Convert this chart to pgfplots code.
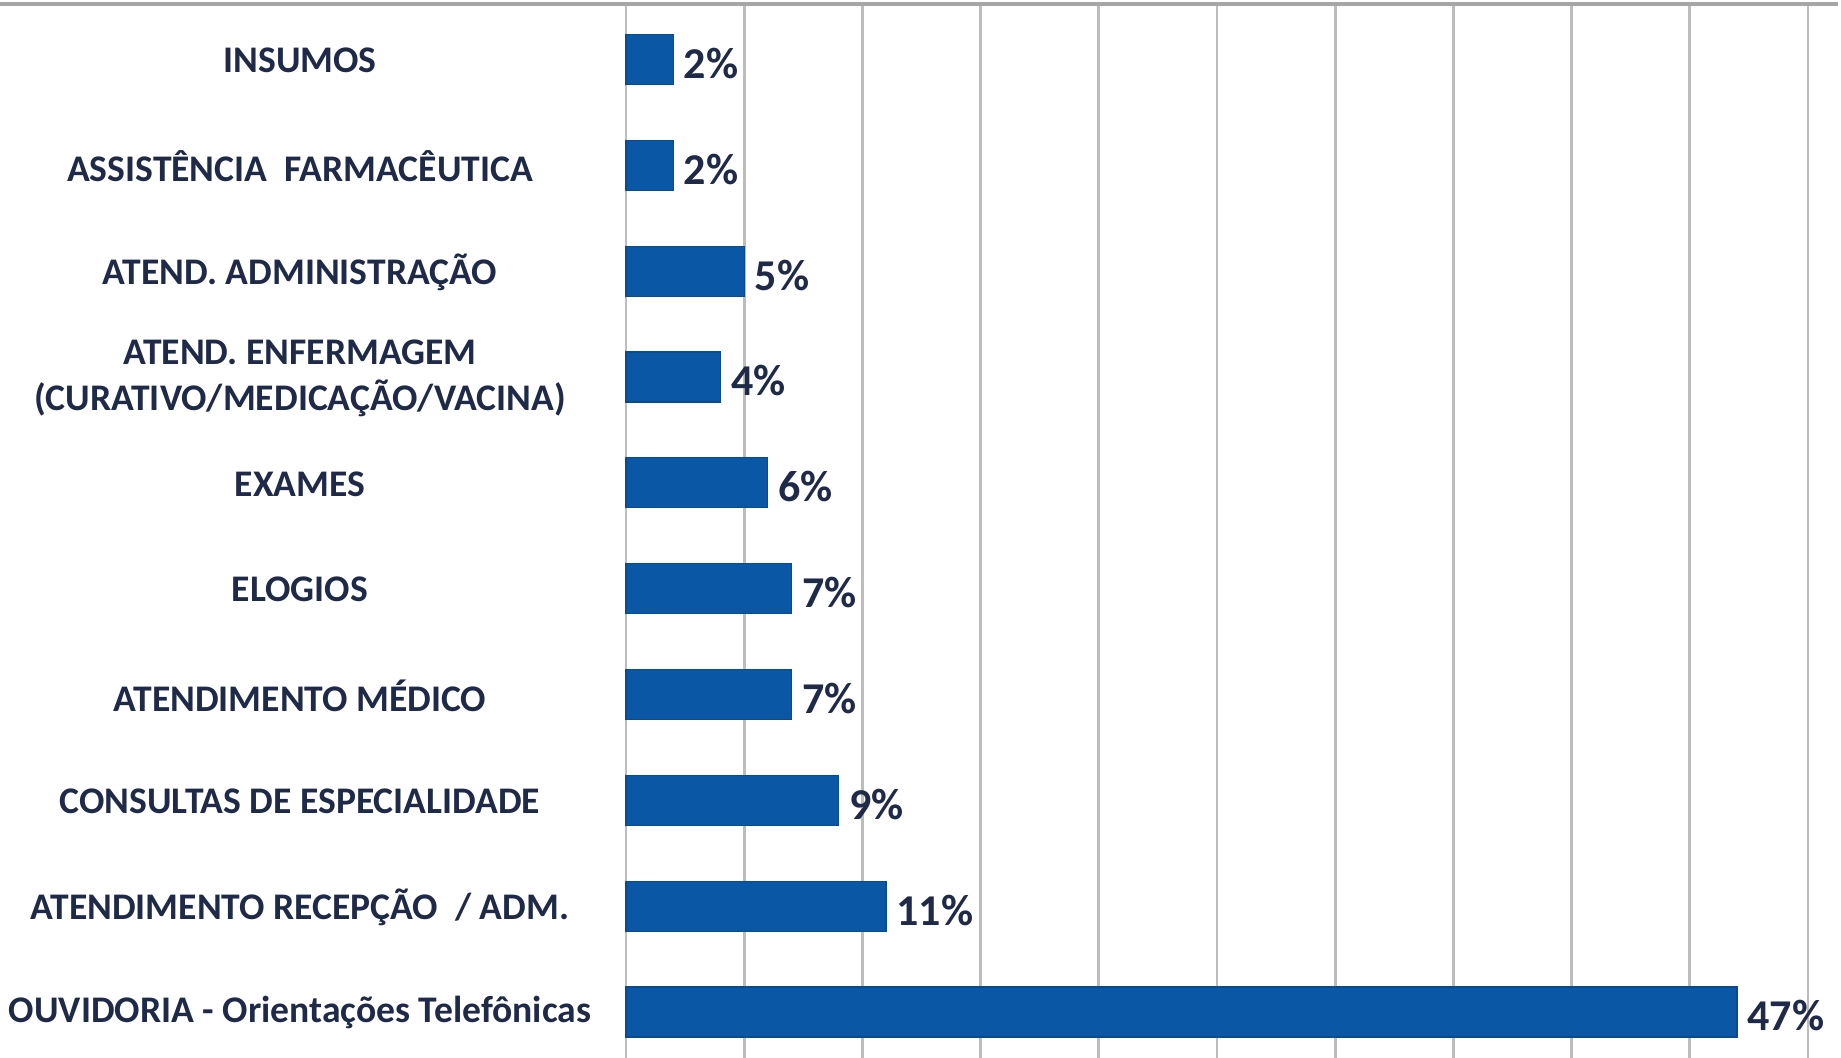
\documentclass[border=0pt]{standalone}
\usepackage{fontspec}
\setmainfont{Carlito}
\usepackage{pgfplots}
\pgfplotsset{compat=1.18}
\definecolor{barcol}{HTML}{0A57A6}
\definecolor{barborder}{HTML}{0B4A8C}
\definecolor{labcol}{HTML}{1F2A48}
\definecolor{gridcol}{HTML}{BDBDBD}
\frenchspacing
\begin{document}
\begin{tikzpicture}
\begin{axis}[
  scale only axis,
  width=591pt, height=527pt,
  xbar,
  xmin=0, xmax=50,
  ymin=-0.435, ymax=9.525,
  bar width=25pt,
  axis line style={draw=none},
  xtick={0,5,...,50},
  xticklabels={},
  xmajorgrids,
  grid style={draw=gridcol, line width=1.4pt},
  major tick length=0pt,
  ytick={0,...,9},
  yticklabels={
    {OUVIDORIA - Orientações Telefônicas},
    {ATENDIMENTO RECEPÇÃO\ \ / ADM.},
    {CONSULTAS DE ESPECIALIDADE},
    {ATENDIMENTO MÉDICO},
    {ELOGIOS},
    {EXAMES},
    {ATEND. ENFERMAGEM\\(CURATIVO/MEDICAÇÃO/VACINA)},
    {ATEND. ADMINISTRAÇÃO},
    {ASSISTÊNCIA\ \ FARMACÊUTICA},
    {INSUMOS}},
  yticklabel style={anchor=center, align=center, inner sep=0pt,
    xshift=-163pt, yshift=-0.5pt, font=\bfseries\fontsize{18.8}{22.9}\selectfont, text=labcol},
  /pgf/number format/assume math mode=true,
  point meta=x,
  nodes near coords={\pgfmathprintnumber{\pgfplotspointmeta}\%},
  nodes near coords style={anchor=west, inner sep=0pt, xshift=5pt, yshift=-2pt,
    font=\bfseries\fontsize{22}{24}\selectfont, text=labcol},
  clip=false,
]
\addplot[fill=barcol, draw=barborder, line width=0.6pt] coordinates {
  (47,0) (11,1) (9,2) (7,3) (7,4) (6,5) (4,6) (5,7) (2,8) (2,9)
};
\coordinate (bl) at (rel axis cs:0,0);
\draw[gray!70, line width=2.2pt] (axis description cs:-0.53,1) -- (axis description cs:1.025,1);
\end{axis}
\pgfresetboundingbox
\path ([xshift=-313pt]bl) rectangle ++(920.5pt,529pt);
\end{tikzpicture}
\end{document}
